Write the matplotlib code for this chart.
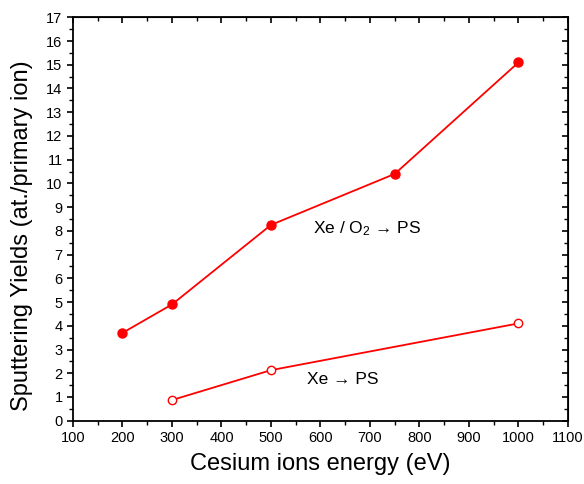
import matplotlib
matplotlib.use("Agg")
import matplotlib.pyplot as plt
from matplotlib.ticker import MultipleLocator

plt.rcParams["font.family"] = ["Liberation Sans", "DejaVu Sans"]
plt.rcParams["mathtext.fontset"] = "custom"
plt.rcParams["mathtext.rm"] = "Liberation Sans"
plt.rcParams["mathtext.it"] = "Liberation Sans:italic"
plt.rcParams["mathtext.bf"] = "Liberation Sans:bold"

# ── data ──
energy_o2 = [200, 300, 500, 750, 1000]
yield_o2 = [3.7, 4.9, 8.25, 10.4, 15.1]

energy_xe = [300, 500, 1000]
yield_xe = [0.87, 2.13, 4.1]

label_o2 = "Xe / O$_2$ \u2192 PS"
label_xe = "Xe \u2192 PS"

fig = plt.figure(figsize=(5.84, 4.84), dpi=100)
ax = fig.add_axes([0.125, 0.1308, 0.8476, 0.8335])

ax.plot(energy_o2, yield_o2, color="red", linewidth=1.3, marker="o",
        markersize=6.5, markerfacecolor="red", markeredgecolor="red")
ax.plot(energy_xe, yield_xe, color="red", linewidth=1.3, marker="o",
        markersize=6, markerfacecolor="white", markeredgecolor="red",
        markeredgewidth=1.0)

ax.text(584, 8.1, label_o2, fontsize=12.5, va="center", ha="left")
ax.text(572, 1.72, label_xe, fontsize=12.5, va="center", ha="left")

ax.set_xlim(100, 1100)
ax.set_ylim(0, 17)
ax.xaxis.set_major_locator(MultipleLocator(100))
ax.xaxis.set_minor_locator(MultipleLocator(50))
ax.yaxis.set_major_locator(MultipleLocator(1))
ax.yaxis.set_minor_locator(MultipleLocator(0.5))

ax.set_xlabel("Cesium ions energy (eV)", fontsize=17, labelpad=6)
ax.set_ylabel("Sputtering Yields (at./primary ion)", fontsize=17)
ax.yaxis.set_label_coords(-0.08, 0.458)

for s in ax.spines.values():
    s.set_linewidth(1.3)

ax.tick_params(axis="both", which="major", labelsize=10.5, length=4.5, width=1.2,
               direction="out", pad=3)
ax.tick_params(axis="both", which="minor", length=3, width=1.0, direction="out")

# inward ticks on top and right
ax_top = ax.secondary_xaxis("top")
ax_top.xaxis.set_major_locator(MultipleLocator(100))
ax_top.xaxis.set_minor_locator(MultipleLocator(50))
ax_top.tick_params(which="major", direction="in", length=4.5, width=1.2)
ax_top.tick_params(which="minor", direction="in", length=3, width=1.0)
ax_top.set_xticklabels([])

ax_right = ax.secondary_yaxis("right")
ax_right.yaxis.set_major_locator(MultipleLocator(1))
ax_right.yaxis.set_minor_locator(MultipleLocator(0.5))
ax_right.tick_params(which="major", direction="in", length=4.5, width=1.2)
ax_right.tick_params(which="minor", direction="in", length=3, width=1.0)
ax_right.set_yticklabels([])

fig.savefig("out.png", dpi=100)
